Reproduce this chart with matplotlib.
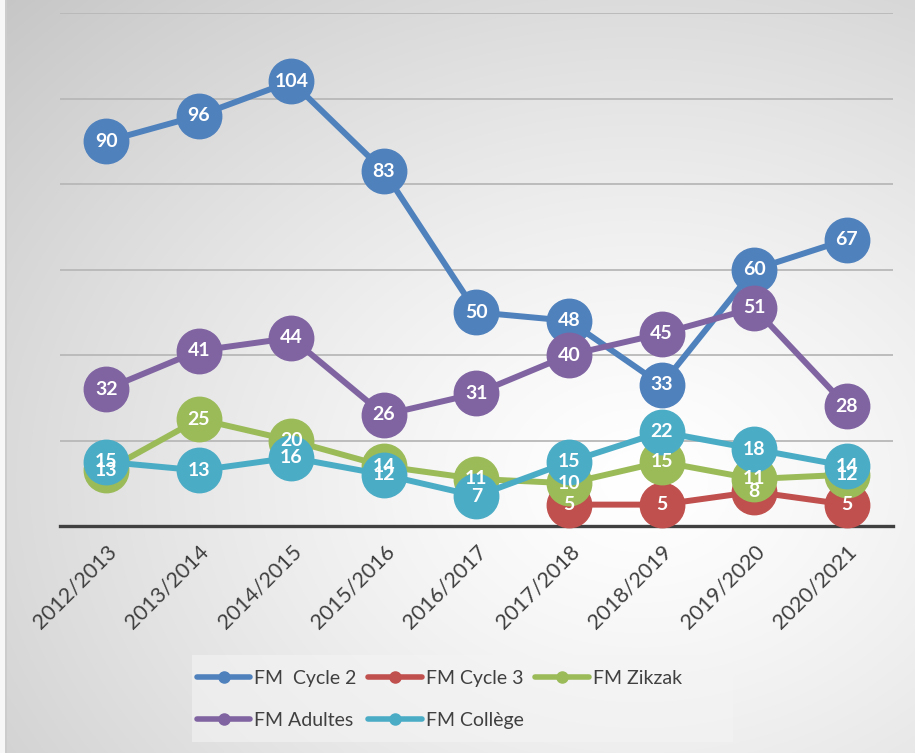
import numpy as np
import matplotlib.pyplot as plt
from matplotlib.lines import Line2D
from matplotlib.patches import Rectangle

plt.rcParams["font.family"] = ["Lato", "DejaVu Sans"]

# Data
years = ["2012/2013", "2013/2014", "2014/2015", "2015/2016", "2016/2017",
         "2017/2018", "2018/2019", "2019/2020", "2020/2021"]
cycle2 = [90, 96, 104, 83, 50, 48, 33, 60, 67]
cycle3 = [np.nan, np.nan, np.nan, np.nan, np.nan, 5, 5, 8, 5]
zikzak = [13, 25, 20, 14, 11, 10, 15, 11, 12]
adultes = [32, 41, 44, 26, 31, 40, 45, 51, 28]
college = [15, 13, 16, 12, 7, 15, 22, 18, 14]

series = [
    ("FM  Cycle 2", cycle2, "#4F81BD"),
    ("FM Cycle 3", cycle3, "#C0504D"),
    ("FM Zikzak", zikzak, "#9BBB59"),
    ("FM Adultes", adultes, "#8064A2"),
    ("FM Collège", college, "#4BACC6"),
]

W, H = 915, 753
fig = plt.figure(figsize=(W / 100, H / 100), dpi=100)

# background gradient (light centre, grey edges)
bg = fig.add_axes([0, 0, 1, 1], zorder=-10)
yy, xx = np.mgrid[0:H, 0:W]
d = np.sqrt(((xx - 640) / 720.0) ** 2 + ((yy - 480) / 560.0) ** 2)
g = np.clip(1.0 - 0.17 * d ** 1.3, 0.75, 1.0)
g[:, :5] = 0.97
g[:, 5:7] = 0.80
bg.imshow(np.dstack([g, g, g]), aspect="auto", extent=[0, W, H, 0])
bg.set_axis_off()

ax = fig.add_axes([60 / W, 1 - 526 / H, (893 - 60) / W, (526 - 13) / H])
ax.set_facecolor("none")
x = np.arange(len(years))

handles = []
for name, vals, col in series:
    ax.plot(x, vals, color=col, lw=4.3, marker="o", ms=32,
            solid_capstyle="round", clip_on=False, zorder=3)
    handles.append(Line2D([0], [0], color=col, lw=4, marker="o", ms=8,
                          solid_capstyle="round"))

# data labels above every series
for name, vals, col in series:
    for xi, v in zip(x, vals):
        if np.isnan(v):
            continue
        ax.text(xi, v, f"{v:g}", ha="center", va="center", color="white",
                fontsize=14, fontweight="bold", zorder=10)

ax.set_xlim(-0.5, len(years) - 0.5)
ax.set_ylim(0, 120)
ax.set_yticks(np.arange(20, 121, 20))
ax.yaxis.grid(True, color="#B8B8B8", lw=1.3)
ax.set_axisbelow(True)
ax.tick_params(axis="y", left=False, labelleft=False)
ax.tick_params(axis="x", length=0, pad=11)
for s in ["top", "right", "left"]:
    ax.spines[s].set_visible(False)
ax.spines["bottom"].set_color("#404040")
ax.spines["bottom"].set_linewidth(2.4)
ax.spines["bottom"].set_zorder(2)

ax.set_xticks(x)
ax.set_xticklabels(years, rotation=45, ha="right", va="top",
                   rotation_mode="anchor", fontsize=15.5, color="#404040")

# legend box
fig.patches.append(Rectangle((192 / W, 1 - 742 / H), (733 - 192) / W, 87 / H,
                             transform=fig.transFigure, facecolor="#F4F4F4",
                             alpha=0.6, edgecolor="none", zorder=0))
order = [0, 3, 1, 4, 2]
leg = fig.legend([handles[i] for i in order], [series[i][0] for i in order],
                 loc="upper left", bbox_to_anchor=(197 / W, 1 - 670 / H),
                 ncol=3, fontsize=14, frameon=False, handlelength=2.75,
                 handletextpad=0.2, columnspacing=0.6, labelspacing=1.3,
                 borderpad=0, borderaxespad=0)
for t in leg.get_texts():
    t.set_color("#404040")

fig.savefig("out.png", dpi=100)
